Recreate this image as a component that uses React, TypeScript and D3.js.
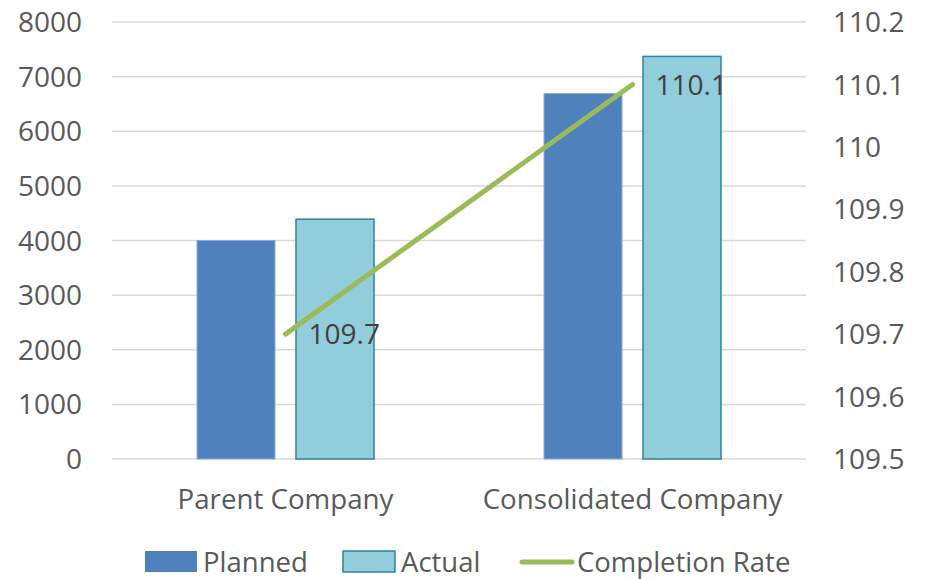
import React from "react";
import * as d3 from "d3";

const categories = ["Parent Company", "Consolidated Company"];
const planned = [4000, 6690];
const actual = [4390, 7370];
const completionRate = [109.7, 110.1];
const leftTicks = [0, 1000, 2000, 3000, 4000, 5000, 6000, 7000, 8000];
const rightTicks = [109.5, 109.6, 109.7, 109.8, 109.9, 110, 110.1, 110.2];

const W = 933;
const H = 579;
const FONT = "'Open Sans', sans-serif";

export default function App() {
  const x0 = 112;
  const x1 = 806;
  const yTop = 22;
  const yBot = 459;

  const x = d3.scaleBand<string>().domain(categories).range([x0, x1]);
  const yL = d3.scaleLinear().domain([0, 8000]).range([yBot, yTop]);
  const yR = d3.scaleLinear().domain([109.5, 110.2]).range([yBot, yTop]);

  const barW = 78;
  const gap = 21;

  const line = d3
    .line<number>()
    .x((_, i) => (x(categories[i]) as number) + x.bandwidth() / 2)
    .y((d) => yR(d));

  return (
    <svg width={W} height={H} style={{ position: "absolute", left: 0, top: 0 }} fontFamily={FONT}>
      <rect width={W} height={H} fill="#fff" />
      {leftTicks.map((t) => (
        <line key={t} x1={x0} x2={x1} y1={yL(t)} y2={yL(t)} stroke="#d9d9d9" strokeWidth={1.5} />
      ))}
      {leftTicks.map((t) => (
        <text key={t} x={82} y={yL(t)} dy="0.36em" textAnchor="end" fontSize={28} fill="#595959">
          {t}
        </text>
      ))}
      {rightTicks.map((t) => (
        <text key={t} x={833} y={yR(t)} dy="0.36em" textAnchor="start" fontSize={28} fill="#595959">
          {d3.format("~g")(+t.toFixed(1))}
        </text>
      ))}
      {categories.map((c, i) => {
        const cx = (x(c) as number) + x.bandwidth() / 2;
        return (
          <g key={c}>
            <rect
              x={cx - gap / 2 - barW}
              y={yL(planned[i])}
              width={barW}
              height={yBot - yL(planned[i])}
              fill="#4f81bd"
              stroke="#8eaadb"
              strokeWidth={1}
            />
            <rect
              x={cx + gap / 2}
              y={yL(actual[i])}
              width={barW}
              height={yBot - yL(actual[i])}
              fill="#92cddc"
              stroke="#31849b"
              strokeWidth={1.5}
            />
            <text x={cx} y={509} textAnchor="middle" fontSize={27.7} fill="#595959">
              {c}
            </text>
          </g>
        );
      })}
      <path d={line(completionRate) as string} fill="none" stroke="#9bbb59" strokeWidth={5} strokeLinecap="round" />
      {completionRate.map((v, i) => {
        const cx = (x(categories[i]) as number) + x.bandwidth() / 2;
        return (
          <text key={i} x={cx + 23} y={yR(v)} dy="0.36em" fontSize={28} fill="#404040">
            {v.toFixed(1)}
          </text>
        );
      })}
      {/* legend */}
      <g fontSize={27.5} fill="#595959">
        <rect x={145} y={551} width={52} height={21} fill="#4f81bd" />
        <text x={203} y={572}>Planned</text>
        <rect x={343} y={551} width={52} height={21} fill="#92cddc" stroke="#31849b" strokeWidth={1.5} />
        <text x={401} y={572}>Actual</text>
        <line x1={522} x2={572} y1={562} y2={562} stroke="#9bbb59" strokeWidth={5} strokeLinecap="round" />
        <text x={577} y={572}>Completion Rate</text>
      </g>
    </svg>
  );
}
